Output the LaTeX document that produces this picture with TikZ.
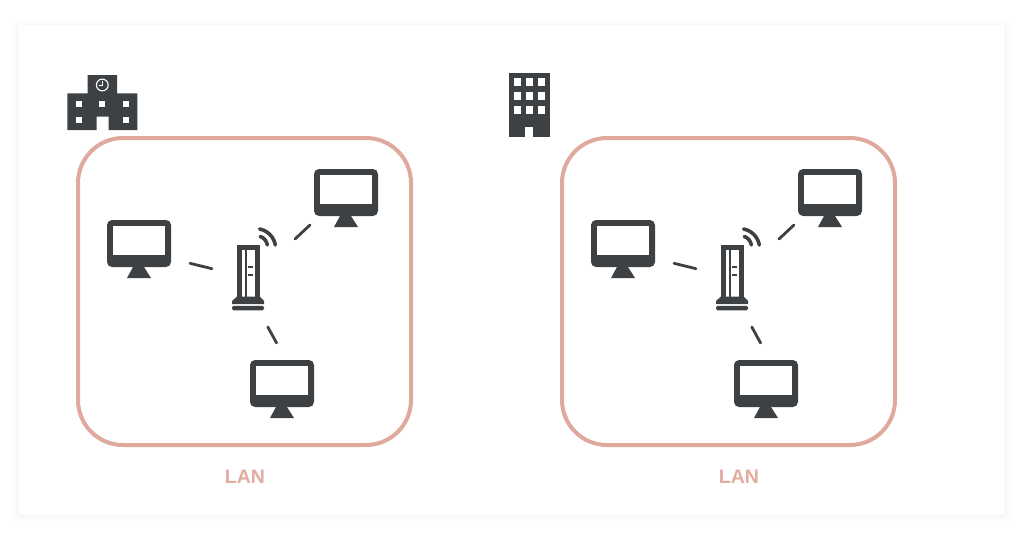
\documentclass[tikz,border=0pt]{standalone}
\usepackage{fontspec}
\setmainfont{Liberation Sans}
\definecolor{ink}{HTML}{3D4143}
\definecolor{salmon}{HTML}{E0A99D}
\definecolor{lanlabel}{HTML}{E3ACA0}
\tikzset{
  lanbox/.style={draw=salmon,line width=4pt,rounded corners=45pt,fill=white,outer sep=0pt,inner sep=0pt},
  lantext/.style={text=lanlabel,font=\fontsize{19.5pt}{20pt}\selectfont\bfseries,inner sep=0pt},
  link/.style={draw=ink,line width=2.8pt,line cap=round},
  wave/.style={draw=ink,line width=3.6pt,line cap=round},
  pics/monitor/.style={code={
    \fill[ink,rounded corners=5pt] (-32,-23) rectangle (32,24);
    \fill[white] (-26,-17) rectangle (26,12);
    \fill[ink] (-6,24) -- (5,24) -- (12,35) -- (-12,35) -- cycle;
  }},
  pics/router/.style={code={
    % tower
    \fill[ink] (237,245) rectangle (259.7,298);
    \fill[white] (242,249.5) rectangle (244.8,298);
    \fill[white] (247,249.5) rectangle (255,298);
    \fill[ink] (237,296.5) -- (259.7,296.5) -- (264,301) -- (264,304.2) -- (232,304.2) -- (232,301) -- cycle;
    \fill[ink,rounded corners=1.5pt] (232,305.8) rectangle (264,310.4);
    \draw[ink,line width=1.8pt] (248,267) -- (253,267) (248,275) -- (253,275);
    % radio waves
    \draw[wave] (260.2,236.5) .. controls (264,237.5) and (266.6,241) .. (267.4,245);
    \draw[wave] (259.6,229) .. controls (267.5,230.5) and (274,237) .. (275.3,245);
  }}
}
\newcommand{\lanarea}[2]{%
  \begin{scope}[shift={(#2,0)}]
    \node[lanbox,minimum width=333pt,minimum height=307pt,anchor=north west] (#1box) at (78,138) {};
    \pic at (139,243) {monitor};
    \pic at (346,192) {monitor};
    \pic at (282,383) {monitor};
    \pic at (0,0) {router};
    \coordinate (#1a1) at (190,263.3);
    \coordinate (#1a2) at (212,268.7);
    \coordinate (#1b1) at (295,239);
    \coordinate (#1b2) at (310,225);
    \coordinate (#1c1) at (267.8,327);
    \coordinate (#1c2) at (276.6,343);
    \draw[link] (#1a1) -- (#1a2);
    \draw[link] (#1b1) -- (#1b2);
    \draw[link] (#1c1) -- (#1c2);
  \end{scope}%
}
\begin{document}
\begin{tikzpicture}[x=1pt,y=-1pt]
\useasboundingbox (0,0) rectangle (1024,533);
\fill[white] (0,0) rectangle (1024,533);
% soft shadow of the card
\foreach \g/\o in {1/7,2/6,3/5,4/4,5/3,6/2,7/1}{
  \fill[black,opacity=0.004,rounded corners=3pt] ({19-\o},{25-\o+1}) rectangle ({1004+\o},{514+\o+1});
}
\fill[white] (19,25) rectangle (1004,514);
\lanarea{L}{0}
\lanarea{R}{484}
\node[lantext] (lanL) at (245,477) {LAN};
\node[lantext] (lanR) at (739,477) {LAN};
% school
\fill[ink] (67.3,93.3) -- (87.7,93.3) -- (87.7,75) -- (117,75) -- (117,93.3) -- (137.3,93.3) -- (137.3,130) -- (108.7,130) -- (108.7,116.7) -- (96.7,116.7) -- (96.7,130) -- (67.3,130) -- cycle;
\foreach \x in {79,102.3,125.7} \fill[white] (\x-3,101.3) rectangle (\x+3,107.3);
\foreach \x in {79,125.7} \fill[white] (\x-3,116.7) rectangle (\x+3,122.7);
\draw[white,line width=1.1pt] (102.3,85) circle[radius=5.9];
\draw[white,line width=1pt] (102.3,81.3) -- (102.3,85.5) -- (99,85.5);
% office
\fill[ink] (509.3,73.3) rectangle (549.7,137.3);
\foreach \x in {517.3,529.3,541.3} \foreach \y in {81.7,95.7,110} \fill[white] (\x-3.3,\y-4.2) rectangle (\x+3.3,\y+4.2);
\fill[white] (525.3,127.3) rectangle (533.3,137.3);
\end{tikzpicture}
\end{document}
